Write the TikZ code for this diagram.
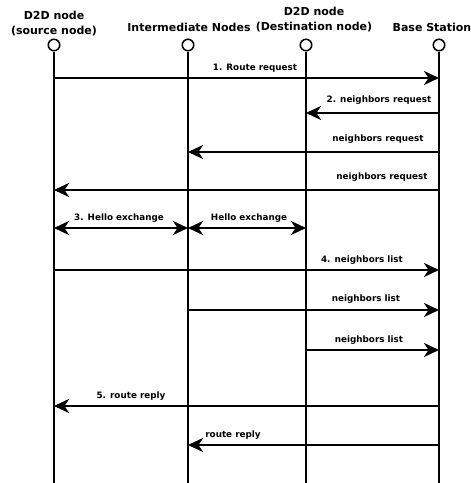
\documentclass[tikz,border=0pt]{standalone}
\usepackage{fontspec}
\setmainfont{DejaVu Sans}
\usetikzlibrary{arrows.meta}
\begin{document}
\begin{tikzpicture}[x=1pt,y=-1pt,
  head/.style={font=\fontsize{11}{15}\selectfont\bfseries, align=center, inner sep=0pt},
  lbl/.style={font=\fontsize{8.8}{10}\selectfont\bfseries, inner sep=0pt},
  lifehead/.style={circle, draw, line width=1.5pt, minimum size=11.5pt, inner sep=0pt, fill=white},
  life/.style={line width=1.6pt},
  tip/.tip={Stealth[length=15pt,width=14pt,inset=4.5pt]},
  msg/.style={line width=2.3pt, -tip},
  bimsg/.style={line width=2.3pt, tip-tip},
]
\useasboundingbox (0,0) rectangle (471,483);
% headers
\node[head] (hs) at (54,23.5) {D2D node\\(source node)};
\node[head] (hi) at (189,27) {Intermediate Nodes};
\node[head] (hd) at (314,19.5) {D2D node\\(Destination node)};
\node[head] (hb) at (432,27) {Base Station};
% lifeline heads
\node[lifehead] (s) at (54,45) {};
\node[lifehead] (i) at (188,45) {};
\node[lifehead] (d) at (306,45) {};
\node[lifehead] (b) at (439,45) {};
\coordinate (se) at (54,483);
\coordinate (ie) at (188,483);
\coordinate (de) at (306,483);
\coordinate (be) at (439,483);
\draw[life] (s.south) -- (se);
\draw[life] (i.south) -- (ie);
\draw[life] (d.south) -- (de);
\draw[life] (b.south) -- (be);
% message rows
\coordinate (m1) at (0,78);
\coordinate (m2) at (0,113);
\coordinate (m3) at (0,152);
\coordinate (m4) at (0,190);
\coordinate (m5) at (0,228);
\coordinate (m6) at (0,270);
\coordinate (m7) at (0,310);
\coordinate (m8) at (0,350);
\coordinate (m9) at (0,406);
\coordinate (m10) at (0,445);
% messages
\draw[msg] (s |- m1) -- (b |- m1);
\node[lbl] (l1) at (255,68) {1. Route request};
\draw[msg] (b |- m2) -- (d |- m2);
\node[lbl] (l2) at (379,100) {2. neighbors request};
\draw[msg] (b |- m3) -- (i |- m3);
\node[lbl] (l3) at (378,139) {neighbors request};
\draw[msg] (b |- m4) -- (s |- m4);
\node[lbl] (l4) at (382,177) {neighbors request};
\draw[bimsg] (s |- m5) -- (i |- m5);
\node[lbl] (l5) at (119,218) {3. Hello exchange};
\draw[bimsg] (i |- m5) -- (d |- m5);
\node[lbl] (l6) at (249,218) {Hello exchange};
\draw[msg] (s |- m6) -- (b |- m6);
\node[lbl] (l7) at (362,260) {4. neighbors list};
\draw[msg] (i |- m7) -- (b |- m7);
\node[lbl] (l8) at (366,299) {neighbors list};
\draw[msg] (d |- m8) -- (b |- m8);
\node[lbl] (l9) at (369,340) {neighbors list};
\draw[msg] (b |- m9) -- (s |- m9);
\node[lbl] (l10) at (131,396) {5. route reply};
\draw[msg] (b |- m10) -- (i |- m10);
\node[lbl] (l11) at (233,435) {route reply};
\end{tikzpicture}
\end{document}
